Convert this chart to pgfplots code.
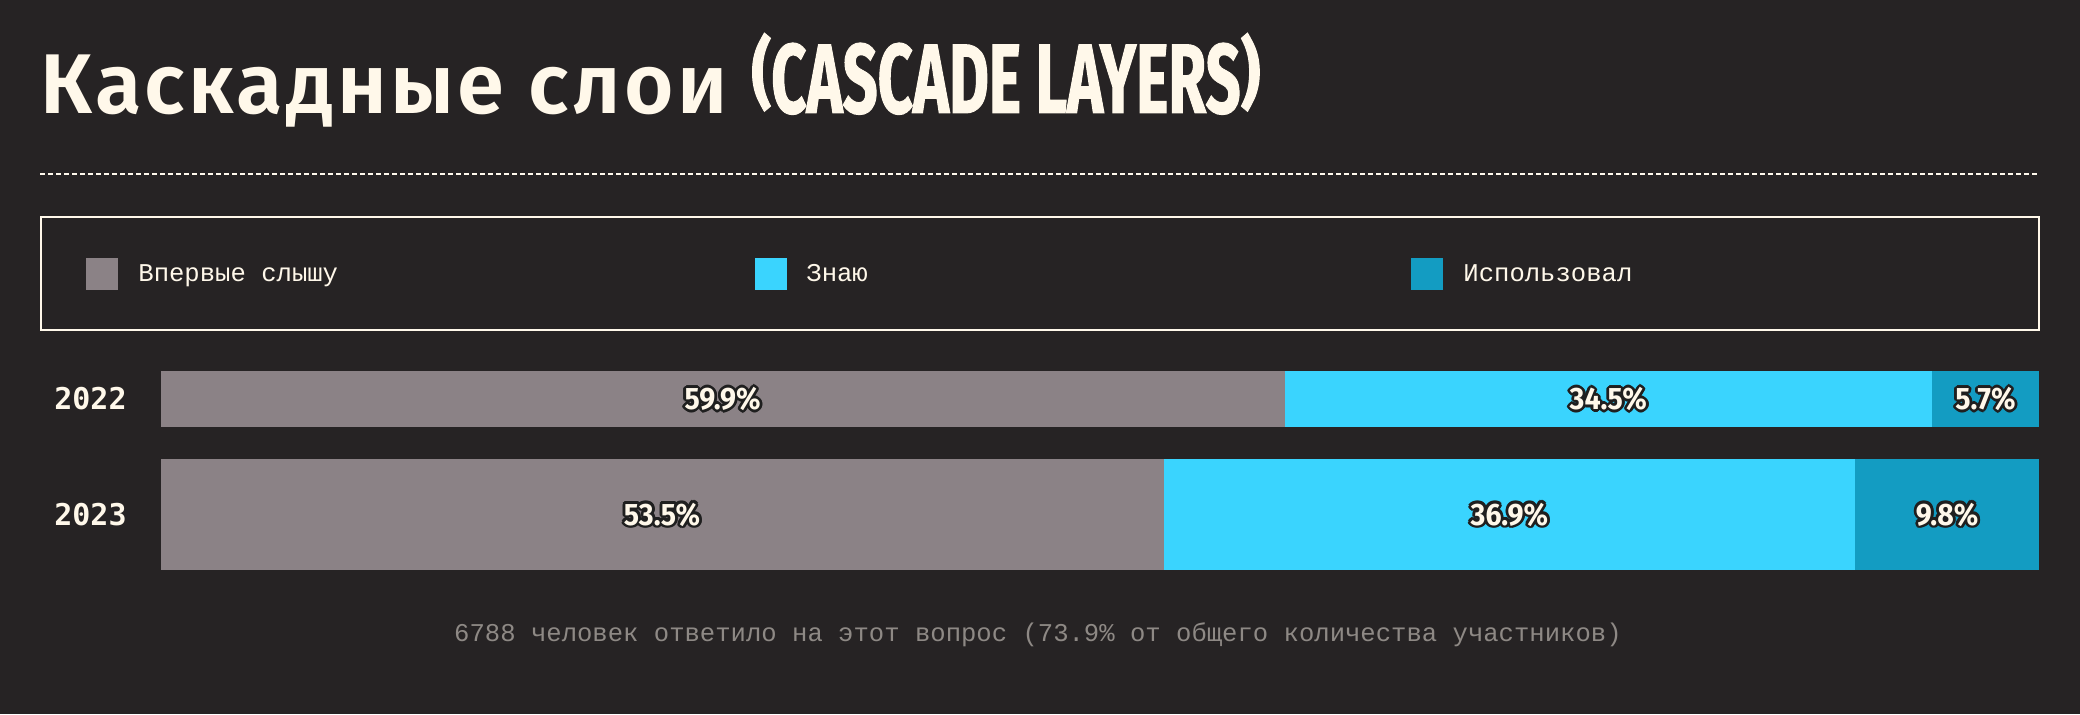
\documentclass[border=0pt]{standalone}
\usepackage{pgfplots}
\pgfplotsset{compat=1.18}
\usepackage{fontspec}
\setmainfont{Liberation Mono}
\newfontfamily\titlefont[LetterSpace=4]{Fira Sans SemiBold}
\newfontfamily\condfont[FakeStretch=0.62, FakeBold=1]{Fira Sans}
\newfontfamily\numfont[FakeStretch=0.92]{Fira Sans}
\newfontfamily\yearfont{DejaVu Sans Mono}

\definecolor{bg}{HTML}{262324}
\definecolor{cream}{HTML}{FFF8EA}
\definecolor{slate}{HTML}{8B8286}
\definecolor{sky}{HTML}{3AD4FE}
\definecolor{deepsky}{HTML}{139CC2}
\definecolor{note}{HTML}{8E8985}

\tikzset{barlbl/.style={inner sep=0pt, text=cream, font=\numfont\bfseries\fontsize{15.5}{16}\selectfont}}

% label with a dark halo round it
\newcommand\haloed[2]{%
  \foreach \a in {0,30,...,330}
    \node[barlbl, text=black!88, shift={(\a:1.4pt)}] at (#1) {#2};
  \node[barlbl] at (#1) {#2};
}
% shorter brackets for the condensed part of the title
\newcommand\sparen[1]{\raisebox{1.4pt}{\scalebox{1}[0.78]{#1}}}

\pgfplotsset{
  yearbar/.style={
    xbar stacked, scale only axis, width=939.25pt, xmin=0,
    ymin=-0.5, ymax=0.5, enlargelimits=false, clip=false,
    axis line style={draw=none}, major tick length=0pt,
    xtick=\empty, ytick={0},
    yticklabel style={font=\yearfont\bfseries\fontsize{15}{15}\selectfont,
      text=cream, anchor=east, inner sep=0pt, xshift=-16.75pt},
    anchor=south west,
    every axis plot/.append style={draw=none},
  },
}

\begin{document}
\begin{tikzpicture}
\path[use as bounding box, fill=bg] (0,0) rectangle (1040pt,357pt);

% title
\node[anchor=base west, inner sep=0, text=cream] at (20pt,300.5pt)
  {\resizebox{343.5pt}{!}{\titlefont\fontsize{43.5}{44}\selectfont Каскадные слои}};
\node[anchor=base west, inner sep=0, text=cream] at (375.5pt,300.5pt)
  {\resizebox{254.5pt}{!}{\condfont\bfseries \sparen{(}CASCADE LAYERS\sparen{)}}};

\draw[cream!85, line width=0.8pt, dash pattern=on 2.5pt off 1.5pt] (20pt,270pt) -- (1019.5pt,270pt);

% legend
\draw[cream, line width=1pt] (20.5pt,192pt) rectangle (1019.5pt,248.5pt);
\begin{scope}[every node/.style={anchor=base west, inner sep=0, text=cream,
    font=\fontsize{12.8}{13}\selectfont}]
  \fill[slate] (43pt,212pt) rectangle (59pt,228pt);
  \node at (69pt,216.4pt) {Впервые слышу};
  \fill[sky] (377.5pt,212pt) rectangle (393.5pt,228pt);
  \node at (403pt,216.4pt) {Знаю};
  \fill[deepsky] (705.5pt,212pt) rectangle (721.5pt,228pt);
  \node at (731.5pt,216.4pt) {Использовал};
\end{scope}

% 2022
\begin{axis}[yearbar, at={(80.25pt,143.5pt)}, height=28pt, bar width=28pt,
    xmax=100.1, yticklabels={2022}]
  \addplot[fill=slate] coordinates {(59.9,0)};
  \addplot[fill=sky] coordinates {(34.5,0)};
  \addplot[fill=deepsky] coordinates {(5.7,0)};
  \coordinate (a1) at (axis cs:29.95,0);
  \coordinate (a2) at (axis cs:77.15,0);
  \coordinate (a3) at (axis cs:97.25,0);
\end{axis}

% 2023
\begin{axis}[yearbar, at={(80.25pt,72pt)}, height=55.5pt, bar width=55.5pt,
    xmax=100.2, yticklabels={2023}]
  \addplot[fill=slate] coordinates {(53.5,0)};
  \addplot[fill=sky] coordinates {(36.9,0)};
  \addplot[fill=deepsky] coordinates {(9.8,0)};
  \coordinate (b1) at (axis cs:26.75,0);
  \coordinate (b2) at (axis cs:71.95,0);
  \coordinate (b3) at (axis cs:95.3,0);
\end{axis}

\haloed{a1}{59.9\%}
\haloed{a2}{34.5\%}
\haloed{a3}{5.7\%}
\haloed{b1}{53.5\%}
\haloed{b2}{36.9\%}
\haloed{b3}{9.8\%}

\node[anchor=base, inner sep=0, text=note, font=\fontsize{12.8}{13}\selectfont]
  at (519pt,36.25pt) {6788 человек ответило на этот вопрос (73.9\% от общего количества участников)};
\end{tikzpicture}
\end{document}
